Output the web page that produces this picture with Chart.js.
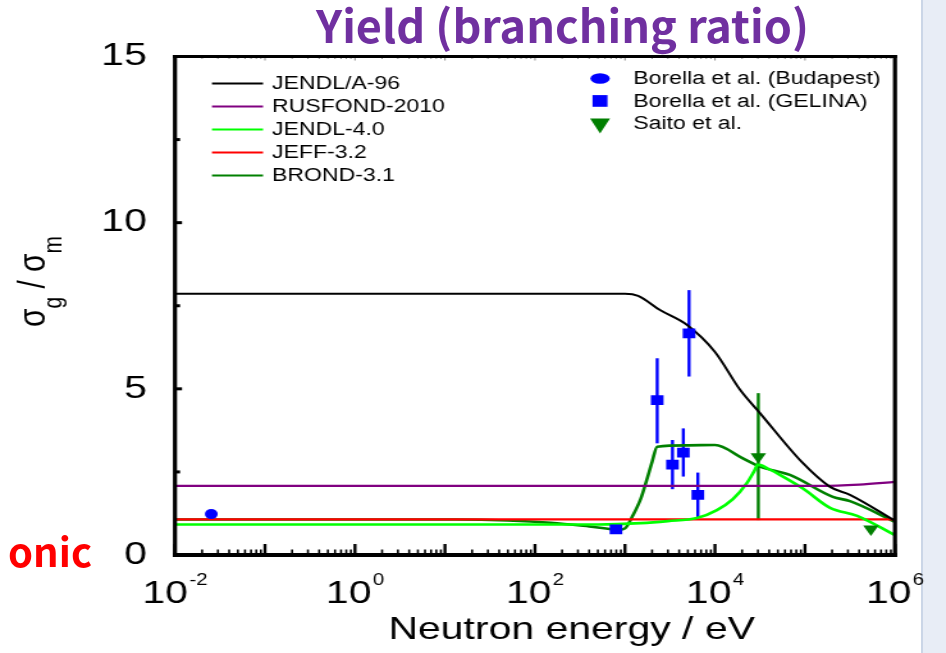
<!DOCTYPE html>
<html>
<head>
<meta charset="utf-8">
<script src="https://cdn.jsdelivr.net/npm/chart.js@4.4.1/dist/chart.umd.min.js"></script>
<style>
  html, body { margin: 0; padding: 0; background: #fff; }
  body { position: relative; width: 946px; height: 653px; overflow: hidden; }
  #side { position: absolute; left: 921px; top: 0; width: 25px; height: 653px; background: #E8EDF6;
          border-left: 2px solid #CBD6E7; }
  #plot { position: absolute; left: 0; top: 0; transform: scaleX(1.28); transform-origin: 0 0; }
  #title { position: absolute; left: 0; top: 1px; width: 1125px; text-align: center; white-space: nowrap;
           font-family: "Noto Sans CJK SC", "Noto Sans", sans-serif; font-weight: bold; font-size: 45px;
           line-height: 1; color: #7030A0; }
  #note { position: absolute; right: 854px; top: 530px; white-space: nowrap;
          font-family: "Noto Sans CJK SC", "Noto Sans", sans-serif; font-weight: bold; font-size: 40px;
          line-height: 1; color: #ff0000; }
</style>
</head>
<body>
<div id="side"></div>
<canvas id="plot" width="730" height="653"></canvas>
<div id="title">Yield (branching ratio)</div>
<div id="note">onic</div>
<script>
// evaluated libraries: neutron energy (eV) / isomeric ratio
const jendlA96E = [0.01, 1000, 1400, 2450, 4900, 10000, 19000, 31600, 92000, 190000, 316000, 1e6];
const jendlA96R = [7.86, 7.86, 7.8, 7.37, 6.92, 6.11, 4.97, 4.27, 2.8, 2.05, 1.81, 1.03];

const rusfondE = [0.01, 150000, 400000, 1e6];
const rusfondR = [2.08, 2.08, 2.12, 2.2];

const jendl40E = [0.01, 500, 1500, 3000, 6300, 10500, 15800, 22700, 27000, 30000, 40000, 52000, 95000, 190000, 380000, 1e6];
const jendl40R = [0.92, 0.92, 0.96, 1.02, 1.11, 1.35, 1.68, 2.17, 2.5, 2.72, 2.58, 2.42, 2.0, 1.42, 1.18, 0.6];

const jeffE = [0.01, 1e6];
const jeffR = [1.07, 1.07];

const brondE = [0.01, 13, 50, 150, 400, 870, 1000, 1230, 1500, 1740, 2000, 2280, 5000, 10000, 20400, 31600, 68000, 204000, 316000, 1e6];
const brondR = [1.07, 1.07, 1.04, 0.97, 0.86, 0.76, 0.8, 1.2, 1.7, 2.25, 2.8, 3.26, 3.3, 3.31, 2.91, 2.66, 2.41, 1.75, 1.62, 1.0];

// measurements
const budapestE = [0.0253];
const budapestR = [1.23];

const gelinaE = [794, 2280, 3370, 4450, 5150, 6450];
const gelinaR = [0.77, 4.66, 2.72, 3.08, 6.67, 1.81];
const gelinaLo = [0.77, 3.36, 1.98, 2.36, 5.37, 1.13];
const gelinaHi = [0.77, 5.92, 3.46, 3.81, 7.97, 2.48];

const saitoE = [30300, 540000];
const saitoR = [2.96, 0.78];
const saitoLo = [1.05, 0.78];
const saitoHi = [4.87, 0.78];

const xTickExponents = [-2, 0, 2, 4, 6];
const yMajorTicks = [0, 5, 10, 15];
const yMinorTicks = [2.5, 7.5, 12.5];

const FONT = '"Liberation Sans", Arial, sans-serif';

const toPts = (xs, ys, lo, hi) => xs.map((x, i) => {
  const p = { x: x, y: ys[i] };
  if (lo) { p.yMin = lo[i]; p.yMax = hi[i]; }
  return p;
});

const curve = (label, xs, ys, color, width) => ({
  label: label, group: 'eval', data: toPts(xs, ys),
  showLine: true, borderColor: color, backgroundColor: color, borderWidth: width,
  pointRadius: 0, pointHoverRadius: 0, cubicInterpolationMode: 'monotone', order: 2
});

const marks = (label, data, color, style, radius, rotation) => ({
  label: label, group: 'exp', data: data, showLine: false,
  borderColor: color, backgroundColor: color, pointStyle: style, pointRadius: radius,
  pointBorderWidth: 0, pointRotation: rotation || 0, order: 0
});

const decor = {
  id: 'decor',
  beforeDatasetsDraw(chart) {
    const { ctx, scales: { x, y } } = chart;
    ctx.save();
    chart.data.datasets.forEach(ds => {
      ds.data.forEach(p => {
        if (p.yMin === undefined || p.yMax - p.yMin < 0.05) return;
        const px = x.getPixelForValue(p.x);
        ctx.strokeStyle = ds.borderColor;
        ctx.lineWidth = 2.4;
        ctx.beginPath();
        ctx.moveTo(px, y.getPixelForValue(p.yMin));
        ctx.lineTo(px, y.getPixelForValue(p.yMax));
        ctx.stroke();
      });
    });
    ctx.restore();
  },
  afterDraw(chart) {
    const { ctx, chartArea: a, scales: { x, y } } = chart;
    ctx.save();
    ctx.fillStyle = '#000';

    // x ticks, inside, bottom (black) and top (faint)
    for (let e = -2; e <= 6; e++) {
      for (let m = 1; m <= 9; m++) {
        const v = m * Math.pow(10, e);
        if (v > 1e6) break;
        const px = x.getPixelForValue(v);
        const major = m === 1;
        ctx.fillStyle = '#000';
        ctx.fillRect(px - (major ? 1.2 : 0.8), a.bottom - (major ? 11 : 5.5), major ? 2.4 : 1.6, major ? 11 : 5.5);
        ctx.fillStyle = '#8a8a8a';
        ctx.fillRect(px - 0.5, a.top, 1, major ? 4 : 2.5);
      }
    }
    // y ticks, inside, left
    ctx.fillStyle = '#000';
    yMajorTicks.forEach(v => ctx.fillRect(a.left, y.getPixelForValue(v) - 1.5, 5.5, 3));
    yMinorTicks.forEach(v => ctx.fillRect(a.left, y.getPixelForValue(v) - 1.5, 4, 3));

    // frame
    ctx.fillRect(a.left - 1.6, a.top - 1.5, 3.2, a.bottom - a.top + 3.5);
    ctx.fillRect(a.right - 1.6, a.top - 1.5, 3.2, a.bottom - a.top + 3.5);
    ctx.fillRect(a.left - 1.6, a.top - 1.5, a.right - a.left + 3.2, 3);
    ctx.fillRect(a.left - 1.6, a.bottom - 2, a.right - a.left + 3.2, 4);

    // x tick labels 10^n
    ctx.textAlign = 'left';
    ctx.textBaseline = 'alphabetic';
    xTickExponents.forEach(e => {
      const cx = x.getPixelForValue(Math.pow(10, e));
      ctx.font = '32px ' + FONT;
      const wb = ctx.measureText('10').width;
      ctx.font = '16px ' + FONT;
      const ex = String(e);
      const we = ctx.measureText(ex).width;
      const left = cx - (wb + we + 1) / 2;
      ctx.font = '32px ' + FONT;
      ctx.fillText('10', left, 603);
      ctx.font = '16px ' + FONT;
      ctx.fillText(ex, left + wb + 1, 585);
    });

    // x axis title
    ctx.font = '32px ' + FONT;
    ctx.textAlign = 'center';
    ctx.fillText('Neutron energy / eV', 446.6, 639);

    // y axis title with subscripts
    const parts = [['σ', 30, 0], ['g', 21, 13], [' / ', 30, 0], ['σ', 30, 0], ['m', 21, 13]];
    let total = 0;
    parts.forEach(p => { ctx.font = p[1] + 'px ' + FONT; total += ctx.measureText(p[0]).width; });
    ctx.save();
    ctx.translate(35, 281.5);
    ctx.rotate(-Math.PI / 2);
    ctx.textAlign = 'left';
    let cur = -total / 2;
    parts.forEach(p => {
      ctx.font = p[1] + 'px ' + FONT;
      ctx.fillText(p[0], cur, p[2]);
      cur += ctx.measureText(p[0]).width;
    });
    ctx.restore();

    // legends
    ctx.font = '18px ' + FONT;
    ctx.textAlign = 'left';
    ctx.textBaseline = 'middle';
    const evals = chart.data.datasets.filter(d => d.group === 'eval');
    evals.forEach((d, i) => {
      const ry = 83.5 + i * 23;
      ctx.strokeStyle = d.borderColor;
      ctx.lineWidth = 2;
      ctx.beginPath();
      ctx.moveTo(165.6, ry);
      ctx.lineTo(205.5, ry);
      ctx.stroke();
      ctx.fillStyle = '#000';
      ctx.fillText(d.label, 212.5, ry + 1);
    });
    const exps = chart.data.datasets.filter(d => d.group === 'exp');
    exps.forEach((d, i) => {
      const ry = 78.5 + i * 22.5;
      const cx = 468.8;
      ctx.fillStyle = d.backgroundColor;
      ctx.beginPath();
      if (d.pointStyle === 'circle') {
        ctx.ellipse(cx, ry, 7.6, 5.2, 0, 0, Math.PI * 2);
      } else if (d.pointStyle === 'rect') {
        ctx.rect(cx - 5.9, ry - 5.9, 11.7, 11.7);
      } else {
        ctx.moveTo(cx - 7.8, ry - 5);
        ctx.lineTo(cx + 7.8, ry - 5);
        ctx.lineTo(cx, ry + 10);
        ctx.closePath();
      }
      ctx.fill();
      ctx.fillStyle = '#000';
      ctx.fillText(d.label, 494.8, ry + 1);
    });
    ctx.restore();
  }
};

new Chart(document.getElementById('plot').getContext('2d'), {
  type: 'scatter',
  data: {
    datasets: [
      curve('JENDL/A-96', jendlA96E, jendlA96R, '#000000', 2),
      curve('RUSFOND-2010', rusfondE, rusfondR, '#800080', 2.2),
      curve('JENDL-4.0', jendl40E, jendl40R, '#00ff00', 2.6),
      curve('JEFF-3.2', jeffE, jeffR, '#ff0000', 2.2),
      curve('BROND-3.1', brondE, brondR, '#008000', 2.6),
      marks('Borella et al. (Budapest)', toPts(budapestE, budapestR), '#0000ff', 'circle', 5),
      marks('Borella et al. (GELINA)', toPts(gelinaE, gelinaR, gelinaLo, gelinaHi), '#0000ff', 'rect', 7),
      marks('Saito et al.', toPts(saitoE, saitoR, saitoLo, saitoHi), '#007f00', 'triangle', 7, 180)
    ]
  },
  options: {
    responsive: false,
    devicePixelRatio: 1,
    animation: false,
    layout: { padding: { top: 56.5, right: 30.8, bottom: 0, left: 0 } },
    plugins: { legend: { display: false }, tooltip: { enabled: false } },
    scales: {
      x: {
        type: 'logarithmic',
        min: 0.01,
        max: 1e6,
        ticks: { display: false },
        grid: { display: false },
        border: { display: false },
        afterFit: s => { s.height = 98; }
      },
      y: {
        min: 0,
        max: 15,
        ticks: { stepSize: 5, padding: 14, color: '#000', font: { family: FONT, size: 32 } },
        grid: { display: false },
        border: { display: false },
        afterFit: s => { s.width = 136.7; }
      }
    }
  },
  plugins: [decor]
});
</script>
</body>
</html>
